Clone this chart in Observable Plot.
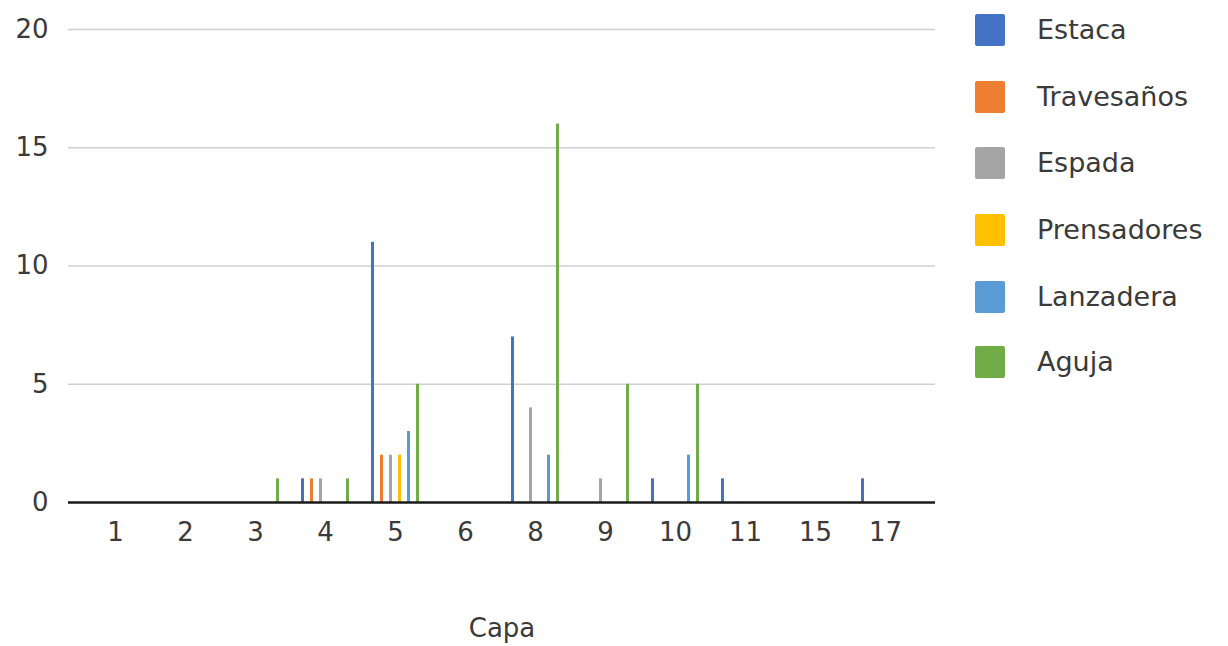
<!DOCTYPE html>
<html><head><meta charset="utf-8">
<script src="https://cdn.jsdelivr.net/npm/d3@7"></script>
<script src="https://cdn.jsdelivr.net/npm/@observablehq/plot@0.6"></script>
<style>
body{margin:0;background:#fff;font-family:"DejaVu Sans",sans-serif;}
#wrap{position:relative;width:1228px;height:646px;overflow:hidden;}
#chart{position:absolute;left:0;top:0;}
#legend{position:absolute;left:975px;top:0;}
.item{position:absolute;left:0;display:flex;align-items:center;height:32px;white-space:nowrap;}
.sw{width:30px;height:32px;border-radius:2px;flex:none;}
.lb{margin-left:32px;font-size:27px;color:#3a3a3a;line-height:32px;}
</style></head><body><div id="wrap"><div id="chart"></div><div id="legend"></div></div>
<script>
const categories = ["1","2","3","4","5","6","8","9","10","11","15","17"];
const seriesNames = ["Estaca","Travesaños","Espada","Prensadores","Lanzadera","Aguja"];
const colors = ["#4472c4","#ed7d31","#a5a5a5","#ffc000","#5b9bd5","#70ad47"];
const estaca      = [0,0,0,1,11,0,7,0,1,1,0,1];
const travesanos  = [0,0,0,1,2,0,0,0,0,0,0,0];
const espada      = [0,0,0,1,2,0,4,1,0,0,0,0];
const prensadores = [0,0,0,0,2,0,0,0,0,0,0,0];
const lanzadera   = [0,0,0,0,3,0,2,0,2,0,0,0];
const aguja       = [0,0,1,1,5,0,16,5,5,0,0,0];
const yTicks = [0,5,10,15,20];
const xTitle = "Capa";

const seriesValues = [estaca, travesanos, espada, prensadores, lanzadera, aguja];

const groupStep = 9;    // spacing between bars of one group (px)
const barWidth = 3;     // bar thickness (px)
const bandWidth = 70;   // category step (px)
const inset = (bandWidth - barWidth) / 2;

const barMarks = seriesNames.map((s, k) => {
  const rows = categories.map((c, i) => ({cat: c, series: s, value: seriesValues[k][i]})).filter(d => d.value > 0);
  return Plot.barY(rows, {
    x: "cat", y: "value", fill: "series",
    insetLeft: inset, insetRight: inset,
    dx: (k - (seriesNames.length - 1) / 2) * groupStep
  });
});

const plot = Plot.plot({
  width: 960, height: 646,
  marginLeft: 68, marginRight: 25, marginTop: 29, marginBottom: 144,
  style: {fontFamily: "DejaVu Sans", fontSize: "26px", color: "#3a3a3a", background: "#fff", overflow: "visible"},
  x: {domain: categories, padding: 0, insetLeft: 11.5, insetRight: 15.5, label: null},
  y: {domain: [0, 20], label: null},
  color: {domain: seriesNames, range: colors},
  marks: [
    Plot.ruleY(yTicks.filter(d => d > 0), {stroke: "#d0d0d0", strokeWidth: 1.5}),
    ...barMarks,
    Plot.ruleY([0], {stroke: "#1a1a1a", strokeWidth: 2.5}),
    Plot.axisY({ticks: yTicks, tickSize: 0, tickPadding: 20, label: null, fill: "#3a3a3a"}),
    Plot.axisX({tickSize: 0, tickPadding: 20, label: xTitle, labelAnchor: "center", labelOffset: 134, fill: "#3a3a3a"})
  ]
});
document.getElementById("chart").appendChild(plot);

const legend = document.getElementById("legend");
const rowY = [30, 97, 163, 230, 297, 362];
seriesNames.forEach((s, k) => {
  const it = document.createElement("div");
  it.className = "item";
  it.style.top = (rowY[k] - 16) + "px";
  it.innerHTML = `<div class="sw" style="background:${colors[k]}"></div><div class="lb">${s}</div>`;
  legend.appendChild(it);
});
</script></body></html>
